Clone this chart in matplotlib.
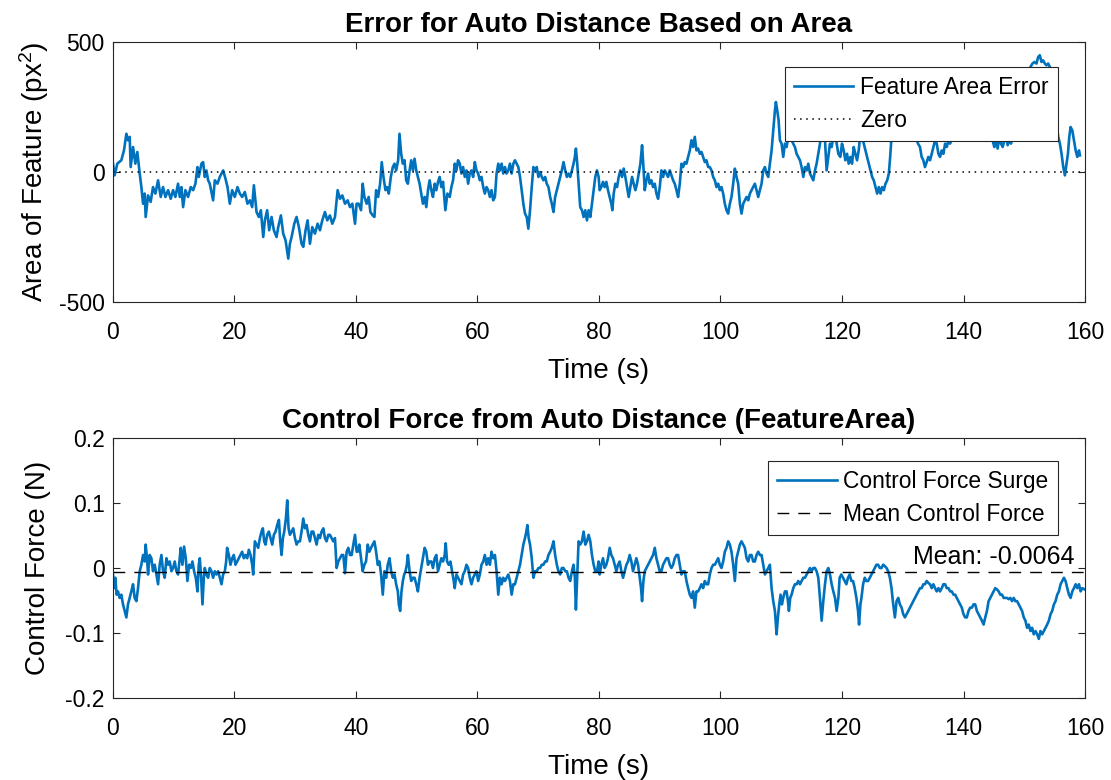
import matplotlib
matplotlib.use("Agg")
import matplotlib.pyplot as plt

# ---- data (time in s) ----
area_t = [0.0, 0.27, 0.71, 1.37, 1.81, 2.2, 2.47, 2.75, 2.91, 3.3, 3.68, 4.0, 4.4, 4.67, 4.95,
          5.22, 5.38, 5.77, 6.2, 6.59, 6.98, 7.42, 7.86, 8.24, 8.63, 9.07, 9.5, 9.89, 10.27,
          10.71, 10.99, 11.26, 11.54, 11.92, 12.36, 12.8, 13.19, 13.57, 13.9, 14.12, 14.56,
          14.84, 15.11, 15.38, 15.66, 15.93, 16.48, 16.76, 17.2, 17.58, 18.13, 18.52, 18.85,
          19.23, 19.62, 20.05, 20.49, 20.88, 21.26, 21.7, 22.14, 22.53, 22.91, 23.19, 23.63,
          24.01, 24.34, 24.73, 25.0, 25.38, 25.71, 26.1, 26.48, 26.92, 27.2, 27.64, 28.02,
          28.41, 28.85, 29.12, 29.4, 29.84, 30.22, 30.6, 31.04, 31.32, 31.7, 32.03, 32.42,
          32.8, 33.24, 33.68, 34.07, 34.45, 34.89, 35.27, 35.71, 36.1, 36.54, 36.98, 37.36,
          37.75, 38.19, 38.63, 39.01, 39.4, 39.84, 40.1,
          40.44, 40.83, 41.1, 41.38, 41.76, 42.09, 42.37, 42.75, 43.03, 43.31, 43.64, 43.97,
          44.24, 44.52, 44.85, 45.12, 45.4, 45.73, 46.06, 46.34, 46.61, 46.94, 47.16, 47.44,
          47.71, 47.99, 48.26, 48.54, 48.82, 49.09, 49.37, 49.64, 49.92, 50.19, 50.47, 50.74,
          51.02, 51.3, 51.57, 51.85, 52.12, 52.4, 52.67, 52.95, 53.22, 53.5, 53.77, 54.05,
          54.33, 54.71, 55.04, 55.43, 55.7, 55.98, 56.25, 56.53, 56.8, 57.08, 57.36, 57.63,
          57.91, 58.18, 58.46, 58.73, 59.01, 59.28, 59.56, 59.83, 60.11, 60.39, 60.66, 60.94,
          61.21, 61.49, 61.76, 62.04, 62.31, 62.59, 62.87, 63.14, 63.42, 63.69, 63.97, 64.24,
          64.52, 64.79, 65.07, 65.34, 65.62, 65.9, 66.17, 66.45, 66.72, 67.0, 67.27, 67.55,
          67.82, 68.1, 68.37, 68.65, 68.93, 69.2, 69.48, 69.75, 70.03, 70.3, 70.58, 70.85,
          71.13, 71.4, 71.68, 71.96, 72.23, 72.51, 72.78, 73.06, 73.33, 73.61, 73.88, 74.16,
          74.44, 74.71, 74.99, 75.26, 75.54, 75.81, 76.03, 76.2, 76.42, 76.64, 76.91, 77.19,
          77.47, 77.74, 78.02, 78.29, 78.57, 78.84, 79.12, 79.39, 79.67, 79.94,
          80.11, 80.38, 80.66, 80.93, 81.21, 81.48, 81.76, 82.03, 82.2, 82.42, 82.69, 82.97,
          83.24, 83.52, 83.79, 84.07, 84.34, 84.62, 84.89, 85.16, 85.44, 85.71, 85.99, 86.26,
          86.54, 86.81, 87.09, 87.25, 87.53, 87.8, 88.08, 88.35, 88.63, 88.9, 89.18, 89.45,
          89.73, 90.0, 90.27, 90.55, 90.82, 91.1, 91.37, 91.65, 91.92, 92.2, 92.47, 92.75,
          93.02, 93.3, 93.57, 93.85, 94.12, 94.4, 94.67, 94.95, 95.22, 95.49, 95.77, 96.04,
          96.32, 96.59, 96.87, 97.14, 97.42, 97.69, 97.97, 98.24, 98.52, 98.79, 99.07, 99.34,
          99.62, 99.89, 100.16, 100.44, 100.71, 100.99, 101.26, 101.54, 101.81, 102.09,
          102.36, 102.64, 102.91, 103.19, 103.46, 103.74, 104.01, 104.29, 104.56, 104.84,
          105.11, 105.38, 105.66, 105.93, 106.21, 106.48, 106.76, 107.03, 107.31, 107.58,
          107.86, 108.13, 108.41, 108.68, 108.96, 109.12, 109.34, 109.56, 109.78, 110.05,
          110.33, 110.6, 110.88, 111.15, 111.43, 111.7, 111.98, 112.25, 112.53, 112.8, 113.08,
          113.35, 113.63, 113.9, 114.18, 114.45, 114.73, 115.0, 115.27, 115.55, 115.82, 116.1,
          116.37, 116.65, 116.92, 117.2, 117.47, 117.75, 118.02, 118.3, 118.57, 118.85,
          119.12, 119.4,
          119.72, 120.0, 120.28, 120.55, 120.83, 121.1, 121.38, 121.65, 121.93, 122.2, 122.48,
          122.75, 123.03, 123.31, 123.58, 123.86, 124.13, 124.41, 124.68, 124.96, 125.23,
          125.51, 125.79, 126.06, 126.34, 126.61, 126.89, 127.16, 127.44, 127.71, 127.93,
          128.15, 128.37, 128.7, 129.26, 129.81, 130.36, 130.91, 131.46, 131.85, 132.18,
          132.51, 132.84, 133.11, 133.39, 133.66, 133.94, 134.21, 134.49, 134.77, 135.04,
          135.32, 135.59, 135.87, 136.14, 136.42, 136.69, 136.97, 137.25, 137.52, 137.8,
          138.07, 138.35, 138.62, 138.9, 139.17, 139.45, 140.0, 140.55, 141.1, 141.65, 142.2,
          142.75, 143.31, 143.86, 144.41, 144.79, 145.07, 145.34, 145.62, 145.89, 146.17,
          146.45, 146.72, 147.0, 147.27, 147.55, 147.82, 148.1, 148.37, 148.82, 149.37,
          149.92, 150.47, 151.02, 151.35, 151.68, 152.01, 152.29, 152.56, 152.84, 153.11,
          153.39, 153.66, 153.94, 154.21, 154.49, 154.77, 155.04, 155.32, 155.59, 155.87,
          156.14, 156.42, 156.69, 156.97, 157.19, 157.41, 157.63, 157.91, 158.18, 158.46,
          158.73, 159.01, 159.17]
area_err = [32, -13, 32, 45, 83, 147, 122, 135, 19, 96, 32, 77, -6, -58, -122,
            -83, -173, -90, -115, -58, -83, -32, -96, -58, -96, -70, -103, -70, -96,
            -45, -96, -58, -135, -70, -96, -58, -70, -45, 19, -19, 32,
            38, -19, 6, -32, -45, -109, -32, -45, -19, 6, -26, -58,
            -122, -70, -96, -58, -83, -96, -77, -122, -109, -135, -51, -154,
            -173, -147, -250, -186, -147, -224, -173, -224, -250, -212, -167, -237,
            -263, -333, -276, -250, -199, -173, -212, -276, -288, -224, -186, -276,
            -212, -237, -199, -224, -186, -154, -186, -167, -199, -173, -70, -103,
            -90, -122, -109, -135, -122, -199, -122,
            -122, -147, -45, -96, -122, -96, -154, -167, -173, -70, -96, -45,
            38, -19, -70, -58, -83, -19, 19, 32, 6, 45, 147, 70,
            32, 45, -32, -45, 6, 45, 6, 51, 6, -19, -45, -83,
            -122, -96, -135, -70, -32, -70, -96, -45, -70, -38, -19, -58,
            -38, -147, -83, -96, -58, -32, 32, 6, 45, 32, -6, 19,
            -19, 6, -45, -6, 6, -19, 38, 6, -6, -32, -19, -58,
            -83, -58, -70, -96, -70, -109, -96, -6, 32, 6, 32, -6,
            19, -6, 6, 32, -6, 32, 45, 32, 19, -19, -70, -122,
            -160, -173, -218, -147, -58, 19, 6, 19, -19, 0, -19, -32,
            -19, -45, -58, -96, -122, -154, -96, -70, -45, -19, 6, 38,
            6, -19, -6, -19, 6, 32, 58, 90, 32, -45, -135, -147,
            -173, -147, -186, -147, -173, -122, -70, -19, 6, -19,
            -70, -58, -38, -58, -38, -70, -96, -122, -147, -83, -45, -58,
            -19, 6, -19, 13, -19, -58, -96, -58, -19, -45, -70, -45,
            -6, 32, 103, 45, -70, -32, -6, -45, -32, -58, -45, -83,
            -103, -58, 6, -19, 6, -6, -19, 6, -13, -32, -45, -70,
            -96, -45, 32, 19, 38, 32, 58, 83, 122, 96, 135, 83,
            90, 70, 77, 58, 38, 45, 19, 19, 6, -19, -32, -58,
            -45, -70, -58, -83, -122, -147, -160, -122, -96, -45,
            13, -19, -45, -122, -160, -122, -109, -96, -109, -83,
            -70, -58, -45, -70, -96, -70, -45, 6, 19, -6,
            -19, 32, 83, 160, 237, 269, 237, 199, 122, 109,
            58, 109, 96, 135, 160, 122, 109, 96, 70, 58, 45,
            19, -19, 19, 6, 32, -6, -19, -32, 6, 32, 70,
            109, 147, 160, 122, 6, 58, 109, 96, 135, 147,
            109, 70,
            58, 109, 83, 45, 70, 32, 58, 32, 96, 70, 45,
            83, 147, 135, 109, 83, 58, 32, 6, -19, -32,
            -58, -83, -58, -83, -58, -70, -45, -32, -6, 58,
            135, 224, 250, 263, 237, 276, 250, 212, 160, 135,
            109, 96, 58, 45, 19, 38, 58, 45, 70, 96,
            122, 109, 70, 58, 83, 70, 109, 96, 122, 109,
            128, 122, 135, 122, 135, 160, 199, 224, 237, 212, 224,
            199, 186, 173, 160, 122, 96, 122, 90, 135, 109,
            96, 122, 135, 103, 122, 109, 135, 186, 237, 288,
            327, 365, 404, 417, 423, 417, 442, 449, 423, 429,
            417, 410, 417, 404, 365, 314, 250, 186, 135, 109,
            70, 19, -13, 32, 70, 135, 173, 160, 122, 83,
            58, 83, 64]

force_t = [0.0, 0.16, 0.38, 0.6, 0.82, 1.1, 1.37, 1.65, 1.92, 2.2, 2.47, 2.75, 3.02, 3.3, 3.57,
           3.85, 4.12, 4.4, 4.67, 4.95, 5.22, 5.38, 5.6, 5.77, 6.04, 6.32, 6.59, 6.87, 7.14,
           7.42, 7.69, 7.97, 8.24, 8.52, 8.79, 9.07, 9.34, 9.62, 9.89, 10.16, 10.44, 10.71,
           10.99, 11.15, 11.43, 11.7, 11.98, 12.25, 12.53, 12.8, 13.08, 13.35, 13.63, 13.9,
           14.12, 14.29, 14.51, 14.73, 14.95, 15.11, 15.38, 15.66, 15.93, 16.21, 16.48, 16.76,
           17.03, 17.31, 17.58, 17.86, 18.13, 18.41, 18.63, 18.79, 19.07, 19.34, 19.62, 19.89,
           20.16, 20.44, 20.71, 20.99, 21.26, 21.54, 21.81, 22.09, 22.36, 22.64, 22.91, 23.08,
           23.35, 23.63, 23.9, 24.18, 24.45, 24.67, 24.89, 25.11, 25.38, 25.66, 25.93, 26.21,
           26.48, 26.76, 27.03, 27.31, 27.53, 27.75, 27.97, 28.19, 28.46, 28.68, 28.9, 29.12,
           29.4, 29.67, 29.95, 30.22, 30.49, 30.77, 31.04, 31.32, 31.59, 31.87, 32.14, 32.42,
           32.69, 32.97, 33.24, 33.52, 33.79, 34.07, 34.34, 34.62, 34.89, 35.16, 35.44, 35.71,
           35.99, 36.26, 36.54, 36.81, 37.09, 37.36, 37.64, 37.91, 38.19, 38.46, 38.74, 39.01,
           39.29, 39.56, 39.84, 40.11,
           40.28, 40.55, 40.83, 41.1, 41.38, 41.65, 41.93, 42.2, 42.48, 42.75, 43.03, 43.31,
           43.58, 43.86, 44.13, 44.41, 44.68, 44.96, 45.23, 45.51, 45.79, 46.06, 46.34, 46.61,
           46.89, 47.05, 47.27, 47.49, 47.71, 47.93, 48.15, 48.37, 48.54, 48.82, 49.09, 49.37,
           49.64, 49.92, 50.19, 50.47, 50.74, 51.02, 51.3, 51.57, 51.85, 52.12, 52.4, 52.67,
           52.95, 53.22, 53.5, 53.77, 54.05, 54.33, 54.6, 54.77, 54.99, 55.26, 55.54, 55.81,
           56.09, 56.25, 56.53, 56.8, 57.08, 57.36, 57.63, 57.91, 58.18, 58.46, 58.73, 59.01,
           59.28, 59.56, 59.83, 60.11, 60.39, 60.66, 60.94, 61.21, 61.49, 61.76, 62.04, 62.31,
           62.59, 62.87, 63.14, 63.42, 63.69, 63.97, 64.24, 64.52, 64.79, 65.07, 65.34, 65.62,
           65.9, 66.17, 66.45, 66.72, 67.0, 67.27, 67.55, 67.82, 68.04, 68.21, 68.43, 68.65,
           68.93, 69.2, 69.48, 69.75, 70.03, 70.3, 70.58, 70.85, 71.13, 71.4, 71.68, 71.96,
           72.23, 72.51, 72.78, 73.06, 73.33, 73.61, 73.88, 74.16, 74.44, 74.71, 74.99, 75.26,
           75.54, 75.81, 76.03, 76.2, 76.42, 76.64, 76.91, 77.19, 77.47, 77.74, 78.02, 78.29,
           78.57, 78.84, 79.12, 79.39, 79.67, 79.94,
           80.11, 80.38, 80.66, 80.93, 81.21, 81.48, 81.76, 82.03, 82.31, 82.58, 82.86, 83.13,
           83.41, 83.68, 83.96, 84.23, 84.51, 84.78, 85.05, 85.33, 85.6, 85.88, 86.15, 86.43,
           86.7, 86.92, 87.09, 87.31, 87.53, 87.8, 88.08, 88.35, 88.63, 88.9, 89.18, 89.45,
           89.73, 90.0, 90.27, 90.55, 90.82, 91.1, 91.37, 91.65, 91.92, 92.2, 92.47, 92.75,
           93.02, 93.3, 93.57, 93.85, 94.12, 94.4, 94.67, 94.95, 95.22, 95.49, 95.77, 96.04,
           96.32, 96.59, 96.87, 97.14, 97.42, 97.69, 97.97, 98.24, 98.52, 98.79, 99.07, 99.34,
           99.62, 99.89, 100.16, 100.44, 100.71, 100.99, 101.26, 101.54, 101.81, 102.09,
           102.36, 102.64, 102.91, 103.19, 103.46, 103.74, 104.01, 104.29, 104.56, 104.84,
           105.11, 105.38, 105.66, 105.93, 106.21, 106.48, 106.76, 107.03, 107.31, 107.58,
           107.86, 108.13, 108.41, 108.68, 108.96, 109.23, 109.45, 109.67, 109.89, 110.11,
           110.33, 110.6, 110.88, 111.1, 111.26, 111.48, 111.7, 111.98, 112.25, 112.53, 112.8,
           113.08, 113.35, 113.63, 113.9, 114.18, 114.45, 114.73, 115.0, 115.27, 115.55,
           115.82, 116.1, 116.37, 116.65, 116.92, 117.2, 117.47, 117.75, 118.02, 118.3,
           118.57, 118.85, 119.12, 119.4,
           119.61, 119.89, 120.17, 120.44, 120.72, 120.99, 121.27, 121.54, 121.82, 122.09,
           122.37, 122.64, 122.81, 123.03, 123.2, 123.47, 123.75, 124.02, 124.3, 124.57,
           124.85, 125.12, 125.4, 125.67, 125.95, 126.23, 126.5, 126.78, 127.05, 127.33,
           127.6, 127.88, 128.15, 128.43, 128.71, 128.98, 129.26, 129.53, 129.81, 130.08,
           130.36, 130.63, 130.91, 131.18, 131.46, 131.74, 132.01, 132.29, 132.56, 132.84,
           133.11, 133.39, 133.66, 133.94, 134.21, 134.49, 134.77, 135.04, 135.32, 135.59,
           135.87, 136.14, 136.42, 136.69, 136.97, 137.25, 137.52, 137.8, 138.07, 138.35,
           138.62, 138.9, 139.17, 139.45, 139.72, 140.0, 140.28, 140.55, 140.83, 141.1,
           141.38, 141.65, 141.93, 142.2, 142.48, 142.75, 143.03, 143.31, 143.58, 143.86,
           144.13, 144.41, 144.68, 144.96, 145.23, 145.51, 145.79, 146.06, 146.34, 146.61,
           146.89, 147.16, 147.44, 147.71, 147.99, 148.26, 148.54, 148.82, 149.09, 149.37,
           149.64, 149.92, 150.19, 150.47, 150.74, 151.02, 151.29, 151.57, 151.85, 152.12,
           152.4, 152.67, 152.95, 153.22, 153.5, 153.77, 154.05, 154.33, 154.6, 154.88,
           155.15, 155.43, 155.7, 155.98, 156.25, 156.53, 156.8, 157.08, 157.36, 157.63,
           157.91, 158.18, 158.46, 158.73, 159.01, 159.28, 159.56, 159.94]
force_surge = [-0.010, -0.031, -0.015, -0.041, -0.036, -0.046, -0.041, -0.056, -0.066, -0.076,
               -0.056, -0.046, -0.036, -0.025, -0.046, -0.051, -0.031, -0.005, 0.005, 0.020,
               0.010, 0.036, 0.015, -0.010, 0.020, 0.015, -0.005, 0.005, -0.010, -0.025, 0.005,
               0.020, -0.005, -0.015, 0.015, 0.005, 0.010, -0.005, 0.000, 0.010, -0.005, -0.010,
               0.015, 0.031, 0.005, 0.033, 0.015, -0.020, 0.005, 0.000, 0.010, -0.005, -0.015,
               -0.036, 0.005, 0.015, -0.015, -0.056, -0.015, 0.000, -0.010, -0.015, 0.000,
               -0.005, -0.015, -0.005, -0.010, -0.005, -0.015, -0.025, -0.010, -0.005, 0.010,
               0.031, 0.020, 0.005, 0.015, 0.020, 0.005, 0.010, 0.015, 0.020, 0.025, 0.015,
               0.020, 0.015, 0.028, 0.020, 0.005, -0.010, 0.041, 0.036, 0.031, 0.046, 0.056,
               0.061, 0.041, 0.036, 0.051, 0.056, 0.046, 0.036, 0.051, 0.056, 0.066, 0.074,
               0.041, 0.020, 0.046, 0.056, 0.076, 0.104, 0.061, 0.051, 0.056, 0.061, 0.046,
               0.036, 0.041, 0.041, 0.056, 0.076, 0.061, 0.066, 0.051, 0.041, 0.056, 0.056,
               0.046, 0.036, 0.051, 0.046, 0.056, 0.061, 0.046, 0.041, 0.051, 0.051, 0.046,
               0.041, 0.046, 0.000, 0.010, 0.015, 0.020, 0.020, -0.008, 0.025, 0.031, 0.020,
               0.020, 0.036, 0.051, 0.025,
               0.025, 0.036, 0.015, -0.005, 0.005, 0.010, 0.036, 0.025, 0.031, 0.036, 0.041,
               0.025, 0.005, 0.010, -0.010, -0.041, -0.005, -0.015, 0.005, 0.015, -0.005,
               -0.015, -0.010, -0.025, -0.036, -0.056, -0.066, -0.036, -0.020, -0.010, -0.005,
               0.005, 0.020, -0.005, -0.020, -0.015, -0.015, -0.025, -0.036, -0.015, 0.000,
               0.015, 0.031, 0.025, 0.005, 0.010, 0.010, 0.000, 0.015, 0.020, -0.005, 0.005,
               0.015, 0.010, 0.020, 0.038, 0.010, 0.005, 0.010, -0.005, -0.020, -0.031, -0.010,
               -0.015, -0.020, -0.025, -0.010, -0.005, 0.005, 0.000, -0.015, -0.025, -0.015,
               -0.010, -0.005, -0.020, -0.010, 0.005, 0.010, 0.020, 0.005, 0.015, 0.005, 0.025,
               0.015, 0.020, -0.005, -0.041, -0.015, -0.025, -0.015, -0.020, -0.015, -0.010,
               -0.020, -0.041, -0.025, -0.025, -0.015, -0.005, 0.005, 0.020, 0.036, 0.046,
               0.056, 0.066, 0.046, 0.036, 0.015, -0.015, -0.005, -0.005, 0.000, 0.000, 0.005,
               0.005, 0.010, 0.010, 0.020, 0.025, 0.031, 0.041, 0.020, 0.005, -0.005, -0.010,
               0.000, 0.000, -0.005, -0.005, -0.015, -0.020, -0.005, 0.005, -0.015, -0.064,
               -0.010, 0.041, 0.036, 0.041, 0.056, 0.036, 0.041, 0.051, 0.041, 0.020, 0.005,
               -0.005, -0.005, 0.010,
               -0.010, 0.005, 0.015, 0.000, 0.005, 0.015, 0.031, 0.020, 0.015, 0.005, -0.005,
               0.005, 0.010, -0.005, -0.015, -0.005, 0.005, 0.010, 0.020, 0.010, -0.005, 0.005,
               0.015, 0.005, -0.015, -0.031, -0.051, -0.020, -0.005, 0.000, 0.005, 0.010, 0.015,
               0.020, 0.031, 0.015, 0.005, -0.005, -0.005, 0.005, 0.010, 0.015, 0.015, 0.005,
               0.000, 0.005, 0.015, 0.020, 0.020, 0.005, -0.010, -0.005, -0.005, -0.020, -0.031,
               -0.041, -0.046, -0.036, -0.061, -0.036, -0.036, -0.031, -0.025, -0.031, -0.020,
               -0.025, -0.025, -0.010, 0.000, 0.005, 0.005, 0.010, 0.015, 0.005, 0.000, 0.010,
               0.025, 0.031, 0.041, 0.036, 0.025, 0.005, -0.020, 0.015, 0.025, 0.036, 0.041,
               0.036, 0.031, 0.015, 0.010, 0.020, 0.020, 0.010, 0.010, 0.020, 0.025, 0.020,
               0.020, 0.005, -0.010, -0.005, 0.000, 0.005, -0.031, -0.051, -0.066, -0.102,
               -0.076, -0.056, -0.041, -0.056, -0.046, -0.036, -0.036, -0.051, -0.066, -0.046,
               -0.041, -0.031, -0.025, -0.025, -0.020, -0.025, -0.020, -0.015, -0.015, -0.010,
               -0.005, 0.000, -0.005, 0.000, 0.000, -0.005, -0.015, -0.046, -0.081, -0.051,
               -0.025, -0.005, 0.000, -0.010, -0.025, -0.036, -0.046, -0.066, -0.046,
               -0.015, -0.010, -0.015, -0.020, -0.025, -0.015, -0.010, -0.020, -0.020, -0.031,
               -0.046, -0.066, -0.087, -0.056, -0.046, -0.025, -0.015, -0.020, -0.020, -0.015,
               -0.010, -0.005, 0.000, 0.005, 0.005, 0.000, 0.000, 0.005, 0.003, 0.000, -0.005,
               -0.015, -0.031, -0.056, -0.076, -0.051, -0.046, -0.056, -0.061, -0.071, -0.076,
               -0.071, -0.066, -0.061, -0.056, -0.051, -0.046, -0.041, -0.036, -0.031, -0.031,
               -0.025, -0.025, -0.020, -0.023, -0.025, -0.031, -0.025, -0.031, -0.036, -0.031,
               -0.036, -0.031, -0.025, -0.025, -0.031, -0.031, -0.036, -0.036, -0.041, -0.041,
               -0.046, -0.051, -0.056, -0.061, -0.071, -0.076, -0.076, -0.066, -0.061, -0.061,
               -0.056, -0.056, -0.066, -0.071, -0.076, -0.081, -0.087, -0.076, -0.066, -0.051,
               -0.046, -0.041, -0.036, -0.031, -0.033, -0.036, -0.041, -0.041, -0.046, -0.046,
               -0.046, -0.048, -0.046, -0.051, -0.046, -0.051, -0.051, -0.056, -0.061, -0.066,
               -0.076, -0.081, -0.092, -0.087, -0.097, -0.092, -0.102, -0.097, -0.102, -0.109,
               -0.097, -0.102, -0.097, -0.092, -0.087, -0.081, -0.071, -0.066, -0.056, -0.051,
               -0.041, -0.036, -0.025, -0.020, -0.015, -0.020, -0.031, -0.041, -0.046, -0.036,
               -0.031, -0.025, -0.031, -0.025, -0.036, -0.031, -0.033]
mean_force = -0.0064

# ---- style ----
plt.rcParams["font.family"] = ["Liberation Sans", "DejaVu Sans"]
plt.rcParams["mathtext.fontset"] = "custom"
plt.rcParams["mathtext.rm"] = "Liberation Sans"
plt.rcParams["mathtext.it"] = "Liberation Sans"
plt.rcParams["axes.unicode_minus"] = False

blue = "#0072BD"
axcol = "#262626"
tick_fs = 16.5
label_fs = 20

fig = plt.figure(figsize=(11.11, 7.8), dpi=100)
ax1 = fig.add_axes([0.1017, 0.6128, 0.8749, 0.3334])
ax2 = fig.add_axes([0.1017, 0.1051, 0.8749, 0.3334])


def style_axes(ax):
    for s in ax.spines.values():
        s.set_color(axcol)
        s.set_linewidth(0.8)
    ax.tick_params(direction="in", top=True, right=True, length=5, width=0.8,
                   colors=axcol, labelcolor="black", labelsize=tick_fs)
    ax.tick_params(axis="x", pad=13.5)
    ax.tick_params(axis="y", pad=6)
    ax.set_xlim(0, 160)
    ax.set_xticks(range(0, 161, 20))
    ax.yaxis.set_label_coords(-0.064, 0.5)


def style_legend(leg):
    fr = leg.get_frame()
    fr.set_edgecolor(axcol)
    fr.set_linewidth(0.8)
    fr.set_alpha(1)


# top panel
ax1.plot(area_t, area_err, color=blue, lw=1.9, label="Feature Area Error")
ax1.axhline(0, color="black", ls=(0, (1, 3)), lw=1.1, label="Zero")
style_axes(ax1)
ax1.set_ylim(-500, 500)
ax1.set_yticks([-500, 0, 500])
ax1.set_title("Error for Auto Distance Based on Area", fontsize=label_fs,
              fontweight="bold", pad=7)
ax1.set_xlabel("Time (s)", fontsize=label_fs, labelpad=10.5)
ax1.set_ylabel("Area of Feature (px$^2$)", fontsize=label_fs)
leg1 = ax1.legend(loc="upper right", bbox_to_anchor=(0.972, 0.905), fontsize=16.4,
                  frameon=True, fancybox=False, borderaxespad=0, handlelength=2.6,
                  handletextpad=0.3, labelspacing=0.45, borderpad=0.4)
style_legend(leg1)

# bottom panel
ax2.plot(force_t, force_surge, color=blue, lw=1.9, label="Control Force Surge")
ax2.axhline(mean_force, color="black", ls=(0, (8.5, 6.5)), lw=1.0,
            label="Mean Control Force")
style_axes(ax2)
ax2.set_ylim(-0.2, 0.2)
ax2.set_yticks([-0.2, -0.1, 0, 0.1, 0.2])
ax2.set_yticklabels(["-0.2", "-0.1", "0", "0.1", "0.2"])
ax2.text(158.35, mean_force + 0.0055, f"Mean: {mean_force:.4f}", ha="right", va="bottom",
         fontsize=18)
ax2.set_title("Control Force from Auto Distance (FeatureArea)", fontsize=label_fs,
              fontweight="bold", pad=7)
ax2.set_xlabel("Time (s)", fontsize=label_fs, labelpad=10.5)
ax2.set_ylabel("Control Force (N)", fontsize=label_fs)
leg2 = ax2.legend(loc="upper right", bbox_to_anchor=(0.972, 0.912), fontsize=16.4,
                  frameon=True, fancybox=False, borderaxespad=0, handlelength=2.6,
                  handletextpad=0.3, labelspacing=0.45, borderpad=0.4)
style_legend(leg2)

fig.savefig("out.png", dpi=100, facecolor="white")
